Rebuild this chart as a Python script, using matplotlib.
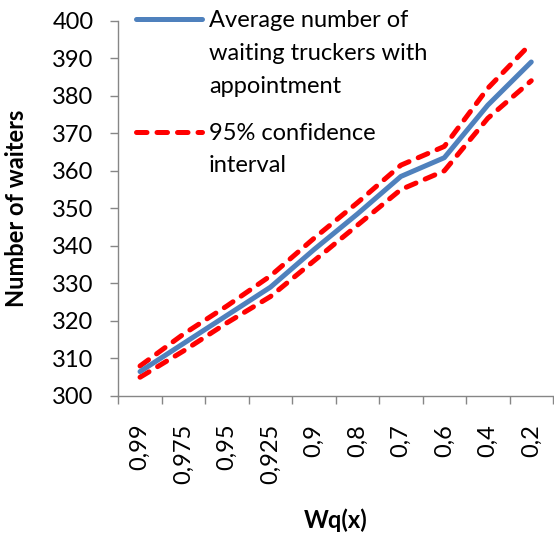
import matplotlib
matplotlib.use("Agg")
import matplotlib.pyplot as plt
import numpy as np
from matplotlib.lines import Line2D

# Service-level targets Wq(x) and resulting number of waiting truckers
categories = ['0,99', '0,975', '0,95', '0,925', '0,9', '0,8', '0,7', '0,6', '0,4', '0,2']
avg_waiters = [306.5, 314.0, 321.5, 329.0, 339.0, 348.5, 358.5, 363.5, 377.5, 389.0]
ci_upper = [308.0, 316.5, 324.0, 332.0, 342.0, 351.5, 361.5, 366.5, 382.0, 394.0]
ci_lower = [305.0, 312.0, 319.5, 326.5, 336.0, 345.5, 355.0, 360.0, 374.0, 384.0]
y_ticks = list(range(300, 401, 10))

label_avg = ["Average number of", "waiting truckers with", "appointment"]
label_ci = ["95% confidence", "interval"]

FONT = "Lato"
FS = 17
BLUE = "#4F81BD"
RED = "#FF0000"
GREY = "#868686"
DASH = (2.1, 2.0)

W, H = 554, 536
fig = plt.figure(figsize=(W / 100, H / 100), dpi=100)
left, right, top, bottom = 118.3, 553.0, 20.7, 396.0
ax = fig.add_axes([left / W, 1 - bottom / H, (right - left) / W, (bottom - top) / H])

x = np.arange(len(categories))
lw = 3.6
ax.plot(x, avg_waiters, color=BLUE, lw=lw, solid_capstyle="round", solid_joinstyle="round", zorder=3)
for series in (ci_upper, ci_lower):
    ax.plot(x, series, color=RED, lw=lw, dashes=DASH, dash_capstyle="round",
            dash_joinstyle="round", zorder=2)

ax.set_xlim(-0.5, len(categories) - 0.5)
ax.set_ylim(300, 400)

for s in ("top", "right"):
    ax.spines[s].set_visible(False)
for s in ("left", "bottom"):
    ax.spines[s].set_color(GREY)
    ax.spines[s].set_linewidth(1.0)

ax.set_yticks(y_ticks)
ax.set_yticklabels([str(v) for v in y_ticks], fontname=FONT, fontsize=FS)
ax.tick_params(axis="y", length=5.8, width=1.0, color=GREY, pad=12)

ax.set_xticks(x)
ax.set_xticklabels(categories, rotation=90, fontname=FONT, fontsize=FS)
ax.set_xticks(np.arange(-0.5, len(categories), 1.0), minor=True)
ax.tick_params(axis="x", which="major", length=0, pad=20)
ax.tick_params(axis="x", which="minor", length=5.8, width=1.0, color=GREY)

ax.set_xlabel("Wq(x)", fontname=FONT, fontsize=FS, fontweight="bold", va="center")
ax.xaxis.set_label_coords(0.5, (bottom - 520) / (bottom - top))
ax.set_ylabel("Number of waiters", fontname=FONT, fontsize=FS, fontweight="bold", va="center")
ax.yaxis.set_label_coords((17 - left) / (right - left), 0.5)

# Legend drawn inside the plot area, handle aligned with the first text line
def fx(px):
    return px / W

def fy(py):
    return 1 - py / H

entries = [(label_avg, dict(color=BLUE, lw=lw, solid_capstyle="round"), [19, 52, 85]),
           (label_ci, dict(color=RED, lw=lw, dashes=DASH, dash_capstyle="round"), [132, 164])]
for lines, style, rows in entries:
    fig.add_artist(Line2D([fx(136), fx(202)], [fy(rows[0]), fy(rows[0])],
                          transform=fig.transFigure, **style))
    for line, ypx in zip(lines, rows):
        fig.text(fx(209), fy(ypx + 8), line, fontname=FONT, fontsize=FS,
                 va="baseline", ha="left")

fig.savefig("out.png", dpi=100)
